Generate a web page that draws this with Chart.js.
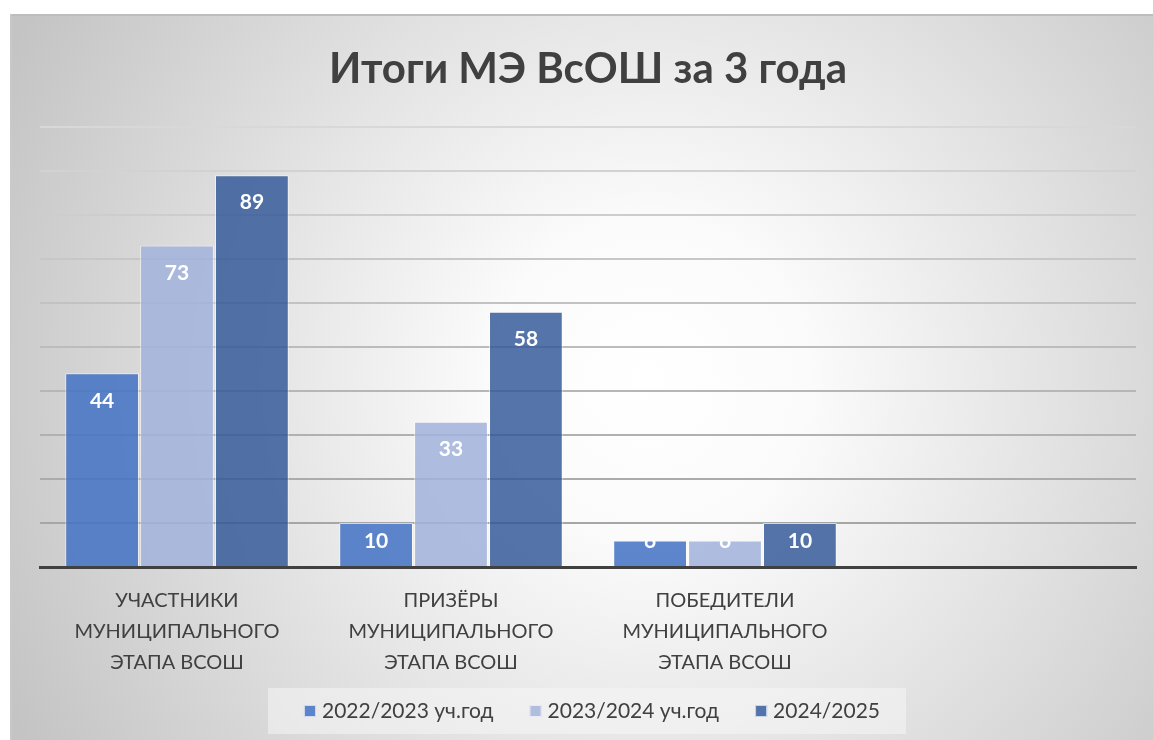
<!DOCTYPE html>
<html>
<head>
<meta charset="utf-8">
<script src="https://cdn.jsdelivr.net/npm/chart.js@4/dist/chart.umd.min.js"></script>
<style>
  html, body { margin: 0; padding: 0; background: #ffffff; }
  #wrap { width: 1153px; height: 740px; position: relative; }
</style>
</head>
<body>
<div id="wrap"><canvas id="c" width="1153" height="740"></canvas></div>
<script>
const chartTitle = "Итоги МЭ ВсОШ за 3 года";
const categories = [
  ["УЧАСТНИКИ", "МУНИЦИПАЛЬНОГО", "ЭТАПА ВСОШ"],
  ["ПРИЗЁРЫ", "МУНИЦИПАЛЬНОГО", "ЭТАПА ВСОШ"],
  ["ПОБЕДИТЕЛИ", "МУНИЦИПАЛЬНОГО", "ЭТАПА ВСОШ"],
  ""
];
const seriesNames = ["2022/2023 уч.год", "2023/2024 уч.год", "2024/2025"];
const values2022 = [44, 10, 6, null];
const values2023 = [73, 33, 6, null];
const values2024 = [89, 58, 10, null];
const yMin = 0, yMax = 100, yStep = 10;

const FONT = "Lato, 'Open Sans', sans-serif";
const fills = ["rgba(68,114,196,0.86)", "rgba(162,178,219,0.86)", "rgba(47,85,151,0.82)"];
const legendFills = ["#5b84cc", "#b0bddf", "#5274ad"];

const bgPlugin = {
  id: "bg",
  beforeDraw(chart) {
    const ctx = chart.ctx;
    const W = chart.width, H = chart.height;
    ctx.save();
    ctx.fillStyle = "#ffffff";
    ctx.fillRect(0, 0, W, H);
    const g = ctx.createRadialGradient(650, 380, 0, 650, 380, 720);
    g.addColorStop(0, "#ffffff");
    g.addColorStop(0.22, "#fbfbfb");
    g.addColorStop(1, "#c4c4c4");
    ctx.fillStyle = g;
    ctx.fillRect(10, 14, W - 10, H - 14);
    ctx.fillStyle = "#bdbdbd";
    ctx.fillRect(10, 14, W - 10, 2);
    ctx.fillStyle = "#cacaca";
    ctx.fillRect(10, 14, 1.5, H - 14);
    ctx.restore();
  }
};

const labelPlugin = {
  id: "barLabels",
  afterDatasetsDraw(chart) {
    const ctx = chart.ctx;
    chart.data.datasets.forEach((ds, i) => {
      const meta = chart.getDatasetMeta(i);
      meta.data.forEach((bar, j) => {
        const v = ds.data[j];
        if (v == null) return;
        const p = bar.getProps(["x", "y", "base", "width"], true);
        const cy = Math.min(p.y + 27.5, p.base - 24.5);
        ctx.save();
        ctx.beginPath();
        ctx.rect(p.x - p.width / 2, p.y, p.width, p.base - p.y);
        ctx.clip();
        ctx.fillStyle = "#ffffff";
        ctx.font = "bold 21px " + FONT;
        ctx.textAlign = "center";
        ctx.textBaseline = "middle";
        ctx.fillText(String(v), p.x, cy);
        ctx.restore();
      });
    });
  }
};

const legendPlugin = {
  id: "customLegend",
  afterDraw(chart) {
    const ctx = chart.ctx;
    ctx.save();
    ctx.font = "21px " + FONT;
    const box = 12, gapText = 6, gapItem = 36;
    const widths = seriesNames.map(s => box + gapText + ctx.measureText(s).width);
    const total = widths.reduce((a, b) => a + b, 0) + gapItem * (seriesNames.length - 1);
    const cx = (chart.chartArea.left + chart.chartArea.right) / 2 + 4;
    const cy = 711;
    let x = cx - total / 2;
    ctx.fillStyle = "rgba(245,245,245,0.55)";
    ctx.fillRect(x - 36, 688, total + 62, 46);
    ctx.textBaseline = "middle";
    ctx.textAlign = "left";
    seriesNames.forEach((s, i) => {
      ctx.fillStyle = legendFills[i];
      ctx.fillRect(x, cy - 6, box, box);
      ctx.strokeStyle = "rgba(255,255,255,0.7)";
      ctx.lineWidth = 1;
      ctx.strokeRect(x + 0.5, cy - 5.5, box - 1, box - 1);
      ctx.fillStyle = "#404040";
      ctx.fillText(s, x + box + gapText, cy);
      x += widths[i] + gapItem;
    });
    ctx.restore();
  }
};

const chart = new Chart(document.getElementById("c"), {
  type: "bar",
  data: {
    labels: categories,
    datasets: seriesNames.map((name, i) => ({
      label: name,
      data: [values2022, values2023, values2024][i],
      backgroundColor: fills[i],
      borderColor: "rgba(255,255,255,0.55)",
      borderWidth: 1,
      categoryPercentage: 0.82,
      barPercentage: 0.985
    }))
  },
  options: {
    responsive: false,
    animation: false,
    devicePixelRatio: 1,
    layout: { padding: { left: 40, right: 17, top: 14, bottom: 52 } },
    plugins: {
      legend: { display: false },
      tooltip: { enabled: false },
      title: {
        display: true,
        text: chartTitle,
        color: "#404040",
        font: { family: FONT, size: 42, weight: "bold", lineHeight: 1.2 },
        padding: { top: 30, bottom: 32.3 }
      }
    },
    scales: {
      x: {
        grid: { display: false },
        border: { display: true, color: "#404040", width: 3 },
        ticks: {
          color: "#404040",
          font: { family: FONT, size: 20, lineHeight: 1.55 },
          padding: 10,
          maxRotation: 0,
          autoSkip: false
        }
      },
      y: {
        min: yMin,
        max: yMax,
        ticks: { display: false, stepSize: yStep },
        border: { display: false },
        grid: {
          drawTicks: false,
          lineWidth: 2,
          color: (c) => {
            const v = c.tick ? c.tick.value : 0;
            const shade = Math.round(160 + (v / 100) * 56);
            return "rgb(" + shade + "," + shade + "," + shade + ")";
          }
        }
      }
    }
  },
  plugins: [bgPlugin, labelPlugin, legendPlugin]
});
</script>
</body>
</html>
